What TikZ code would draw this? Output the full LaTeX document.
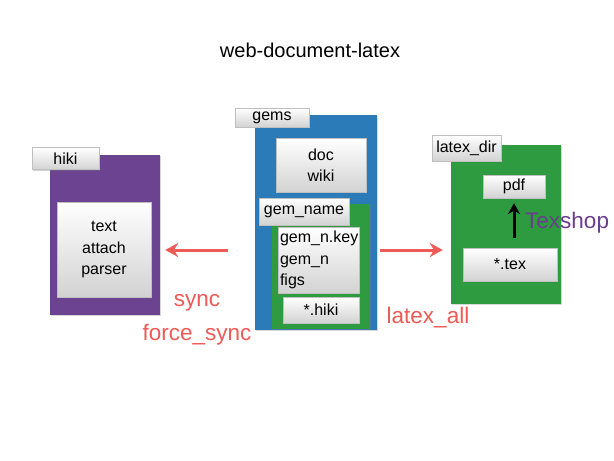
\documentclass[tikz,border=0pt]{standalone}
\usepackage{fontspec}
\setmainfont{Liberation Sans}
\usetikzlibrary{arrows.meta,shadows}
\definecolor{hikipurple}{HTML}{6C4391}
\definecolor{gemblue}{HTML}{2B7BB9}
\definecolor{gemgreen}{HTML}{2E9B40}
\definecolor{arrowred}{HTML}{EE5A55}
\definecolor{texpurple}{HTML}{6A3D8E}
\begin{document}
\begin{tikzpicture}[x=1pt,y=-1pt,
  panel/.style={draw=none,inner sep=0pt,drop shadow={shadow xshift=1pt,shadow yshift=-1pt,opacity=0.3}},
  card/.style={draw=gray!50,line width=0.3pt,inner sep=2pt,top color=white,bottom color=gray!35,
     drop shadow={shadow xshift=1.2pt,shadow yshift=-1.2pt,opacity=0.35},
     font=\fontsize{16}{21.5}\selectfont,align=center},
  redarrow/.style={draw=arrowred,line width=3pt,-{Stealth[length=13pt,width=14pt]}},
  redlabel/.style={text=arrowred,font=\fontsize{22.5}{26}\selectfont,inner sep=0pt}
]
\useasboundingbox[fill=white] (0,0) rectangle (614,461);

\node[inner sep=0pt,font=\fontsize{20}{24}\selectfont] (title) at (310,50) {web-document-latex};

% hiki
\node[panel,fill=hikipurple,minimum width=110pt,minimum height=160pt] (hiki) at (104.5,235) {};
\node[card,minimum width=67pt,minimum height=22pt] (hikitab) at (65.5,158.5) {hiki};
\node[card,minimum width=94pt,minimum height=95pt] (hikibox) at (104,249.5) {text\\attach\\parser};

% gems
\node[panel,fill=gemblue,minimum width=122pt,minimum height=215pt] (gems) at (316,222.5) {};
\node[card,minimum width=74pt,minimum height=19pt] (gemstab) at (272,117.5) {gems};
\node[card,minimum width=90pt,minimum height=54pt] (doc) at (321,165) {doc\\wiki};
\node[panel,fill=gemgreen,minimum width=98pt,minimum height=125pt] (gemname) at (321,266.5) {};
\node[card,minimum width=90pt,minimum height=27pt] (gemnametab) at (304,211.5) {gem\_name};
\node[card,minimum width=81pt,minimum height=66pt,align=left,text width=77pt] (gemfiles) at (318.5,260) {gem\_n.key\\gem\_n\\figs};
\node[card,minimum width=76pt,minimum height=26pt] (hikifile) at (321,310) {*.hiki};

% latex_dir
\node[panel,fill=gemgreen,minimum width=110pt,minimum height=159pt] (latexdir) at (506,224.5) {};
\node[card,minimum width=69pt,minimum height=26pt] (latextab) at (466.5,148) {latex\_dir};
\node[card,minimum width=62pt,minimum height=23pt] (pdf) at (514,186.5) {pdf};
\node[card,minimum width=94pt,minimum height=33pt] (tex) at (510,264.5) {*.tex};

\draw[line width=3pt,-{Stealth[length=11pt,width=12pt]},shorten <=10pt,shorten >=5pt]
  (tex.north -| 514,0) -- (pdf.south -| 514,0);
\node[anchor=west,inner sep=0pt,text=texpurple,font=\fontsize{22.5}{26}\selectfont] (texshop) at (525,223) {Texshop};

% red arrows
\coordinate (ly) at (0,250);
\draw[redarrow,shorten <=27pt,shorten >=5.5pt] (gems.west |- ly) -- (hiki.east |- ly);
\draw[redarrow,shorten <=3pt,shorten >=8pt] (gems.east |- ly) -- (latexdir.west |- ly);

\node[redlabel] (sync) at (197,303) {sync};
\node[redlabel] (fsync) at (197,335) {force\_sync};
\node[redlabel] (lall) at (428,318) {latex\_all};
\end{tikzpicture}
\end{document}
